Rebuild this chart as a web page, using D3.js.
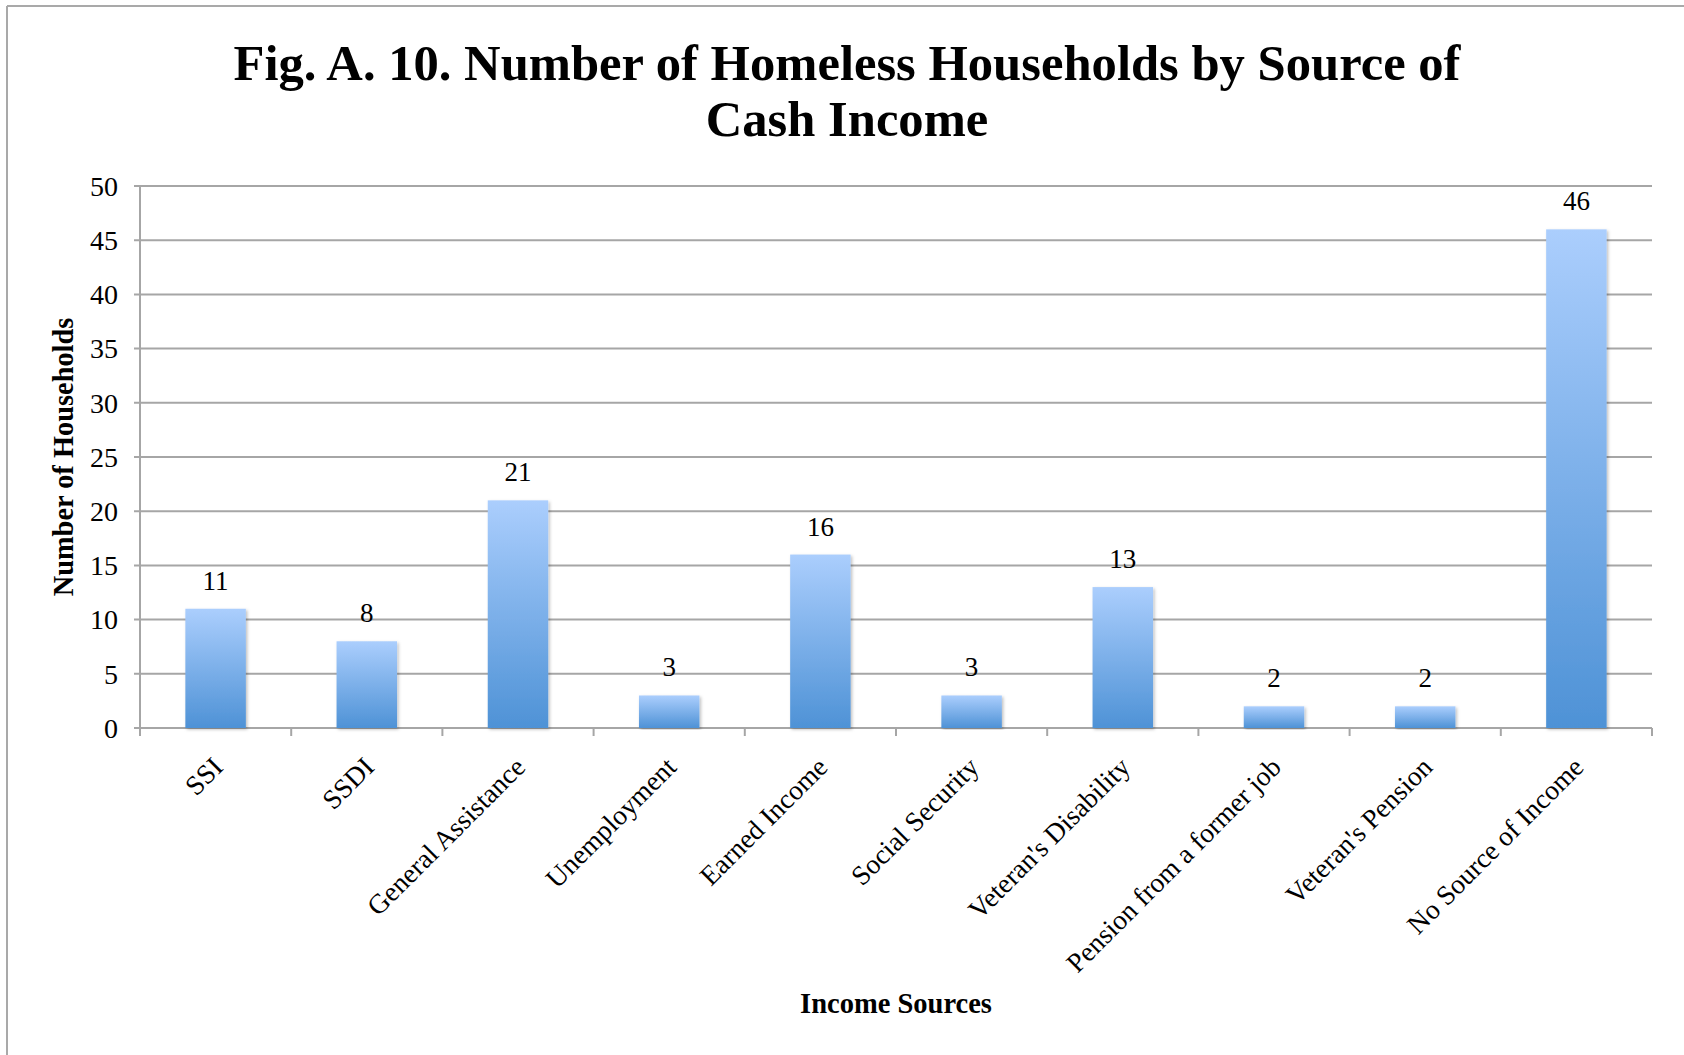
<!DOCTYPE html>
<html>
<head>
<meta charset="utf-8">
<script src="https://cdn.jsdelivr.net/npm/d3@7"></script>
<style>
  html, body { margin: 0; padding: 0; background: #fff; }
  svg { display: block; }
  text { font-family: "Liberation Serif", "Times New Roman", serif; fill: #000; }
</style>
</head>
<body>
<svg id="chart" width="1684" height="1055"></svg>
<script>
const categories = ["SSI", "SSDI", "General Assistance", "Unemployment", "Earned Income",
  "Social Security", "Veteran's Disability", "Pension from a former job", "Veteran's Pension",
  "No Source of Income"];
const households = [11, 8, 21, 3, 16, 3, 13, 2, 2, 46];
const yTicks = [0, 5, 10, 15, 20, 25, 30, 35, 40, 45, 50];
const titleLines = ["Fig. A. 10. Number of Homeless Households by Source of", "Cash Income"];
const xTitle = "Income Sources";
const yTitle = "Number of Households";

(function () {
const W = 1684, H = 1055;
const svg = d3.select("#chart");
const pLeft = 140, pRight = 1652, pTop = 186, pBottom = 728;

// frame (top and left edges visible)
svg.append("line").attr("x1", 7).attr("x2", W).attr("y1", 6).attr("y2", 6)
  .attr("stroke", "#a9a9a9").attr("stroke-width", 2);
svg.append("line").attr("x1", 7).attr("x2", 7).attr("y1", 6).attr("y2", H)
  .attr("stroke", "#a9a9a9").attr("stroke-width", 2);

const defs = svg.append("defs");
const grad = defs.append("linearGradient").attr("id", "barGrad")
  .attr("x1", 0).attr("y1", 0).attr("x2", 0).attr("y2", 1);
grad.append("stop").attr("offset", "0%").attr("stop-color", "#abcefd");
grad.append("stop").attr("offset", "100%").attr("stop-color", "#4e92d6");
const filt = defs.append("filter").attr("id", "shadow")
  .attr("x", "-20%").attr("y", "-5%").attr("width", "140%").attr("height", "110%");
filt.append("feDropShadow").attr("dx", 1.5).attr("dy", 1.5).attr("stdDeviation", 1.5)
  .attr("flood-color", "#000").attr("flood-opacity", 0.25);

const x = d3.scaleBand().domain(categories).range([pLeft, pRight]).paddingInner(0.6).paddingOuter(0.3);
const y = d3.scaleLinear().domain([0, 50]).range([pBottom, pTop]);

// gridlines
svg.append("g").selectAll("line").data(yTicks).join("line")
  .attr("x1", pLeft - 6).attr("x2", pRight)
  .attr("y1", d => y(d)).attr("y2", d => y(d))
  .attr("stroke", "#a6a6a6").attr("stroke-width", 2);

// y axis line
svg.append("line").attr("x1", pLeft).attr("x2", pLeft).attr("y1", pTop).attr("y2", pBottom)
  .attr("stroke", "#a6a6a6").attr("stroke-width", 2);

// y tick labels
svg.append("g").selectAll("text").data(yTicks).join("text")
  .attr("x", pLeft - 22).attr("y", d => y(d)).attr("dy", "0.35em")
  .attr("text-anchor", "end").attr("font-size", 28).text(d => d);

// x ticks at category boundaries
const step = x.step();
const bounds = d3.range(categories.length + 1).map(i => pLeft + i * step);
svg.append("g").selectAll("line").data(bounds).join("line")
  .attr("x1", d => d).attr("x2", d => d).attr("y1", pBottom).attr("y2", pBottom + 8)
  .attr("stroke", "#a6a6a6").attr("stroke-width", 2);

// bars
svg.append("g").selectAll("rect").data(categories).join("rect")
  .attr("x", d => x(d)).attr("width", x.bandwidth())
  .attr("y", (d, i) => y(households[i]))
  .attr("height", (d, i) => y(0) - y(households[i]))
  .attr("fill", "url(#barGrad)").attr("filter", "url(#shadow)");

// value labels
svg.append("g").selectAll("text").data(categories).join("text")
  .attr("x", d => x(d) + x.bandwidth() / 2)
  .attr("y", (d, i) => y(households[i]) - 19)
  .attr("text-anchor", "middle").attr("font-size", 27)
  .text((d, i) => households[i]);

// category labels
svg.append("g").selectAll("text").data(categories).join("text")
  .attr("transform", d => `translate(${x(d) + x.bandwidth() / 2 + 2},762) rotate(-45)`)
  .attr("dy", "0.35em").attr("text-anchor", "end").attr("font-size", 27.5)
  .text(d => d);

// axis titles
svg.append("text").attr("x", (pLeft + pRight) / 2).attr("y", 1013)
  .attr("text-anchor", "middle").attr("font-size", 28.5).attr("font-weight", "bold").text(xTitle);
svg.append("text").attr("transform", `translate(73,${(pTop + pBottom) / 2}) rotate(-90)`)
  .attr("text-anchor", "middle").attr("font-size", 28.4).attr("font-weight", "bold").text(yTitle);

// title
const t1 = svg.append("text").attr("x", 847).attr("y", 80).attr("text-anchor", "middle")
  .attr("font-weight", "bold").attr("font-size", 46).text(titleLines[0]);
const fs = 46 * 1227 / t1.node().getComputedTextLength();
t1.attr("font-size", fs);
svg.append("text").attr("x", 847).attr("y", 136).attr("text-anchor", "middle")
  .attr("font-weight", "bold").attr("font-size", fs).text(titleLines[1]);
})();
</script>
</body>
</html>
